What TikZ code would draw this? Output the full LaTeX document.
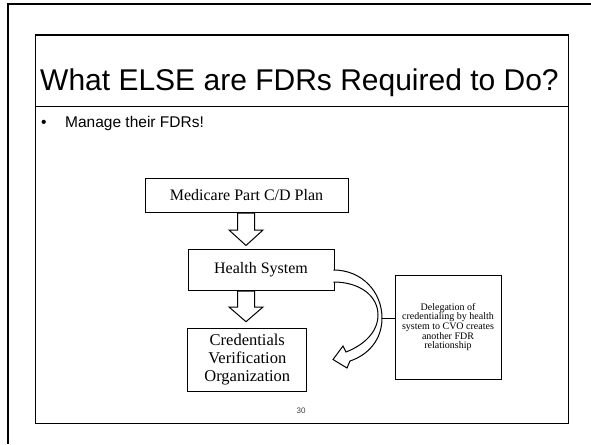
\documentclass[tikz,border=0pt]{standalone}
\usepackage{fontspec}
\setmainfont{Liberation Serif}
\newfontfamily\arialfont{Liberation Sans}
\usetikzlibrary{calc}
\begin{document}
\begin{tikzpicture}[x=1pt,y=-1pt,
  box/.style={draw,line width=1pt,fill=white,inner sep=0pt,align=center},
  blk/.style={draw,line width=1pt,fill=white,line join=miter},
  frame/.style={draw,line width=1.3pt}]
\useasboundingbox (0,0) rectangle (591,444);
% outer frame
\draw[line width=2pt] (8,444) -- (8,4.5) -- (591,4.5);
% inner slide frame
\draw[frame] (35.7,35) rectangle (568.3,423.3);
\draw[line width=1pt] (35.7,106) -- (568.3,106);
% title
\node[anchor=base west,inner sep=0pt,font=\arialfont\fontsize{30}{34}\selectfont] (title) at (40,90) {What ELSE are FDRs Required to Do?};
\node[anchor=base west,inner sep=0pt,font=\arialfont\fontsize{15.5}{18}\selectfont] (bul) at (41,127) {\textbullet};
\node[anchor=base west,inner sep=0pt,font=\arialfont\fontsize{15.5}{18}\selectfont] (sub) at (65,127) {Manage their FDRs!};
% boxes
\node[box,minimum width=203pt,minimum height=34pt,font=\fontsize{16}{18}\selectfont] (med) at (246.5,195) {Medicare Part C/D Plan};
\node[box,minimum width=146pt,minimum height=41.7pt,font=\fontsize{16}{18}\selectfont] (hs) at (261,270) {Health System};
\node[box,minimum width=118.7pt,minimum height=63pt,font=\fontsize{16.5}{18}\selectfont] (cvo) at (247.3,359.5) {Credentials\\Verification\\Organization};
\node[box,minimum width=106pt,minimum height=104pt,font=\fontsize{10}{9.6}\selectfont] (del) at (448,327) {Delegation of\\credentialing by health\\system to CVO creates\\another FDR\\relationship};
% block arrows down
\draw[blk] (237.5,213) -- (254.5,213) -- (254.5,230) -- (263,230) -- (246,245.5) -- (229,230) -- (237.5,230) -- cycle;
\draw[blk] (237.5,291) -- (254.5,291) -- (254.5,307) -- (263,307) -- (246,321.7) -- (229,307) -- (237.5,307) -- cycle;
% curved arrow
\coordinate (cv) at (382,318);
\draw[blk] (333.5,270) .. controls (362,270) and (382,292) .. (cv)
  .. controls (382,340) and (368,355) .. (350,361) -- (347,368) -- (333,359.5) -- (343,346) -- (346,352)
  .. controls (364,345) and (378,332) .. (378,315)
  .. controls (378,296) and (360,282) .. (333.5,282);
\draw[line width=0.8pt] (cv) -- (cv -| del.west);
% slide number
\node[inner sep=0pt,font=\arialfont\fontsize{8}{10}\selectfont,text=black!75] (num) at (301,411) {30};
\end{tikzpicture}
\end{document}
